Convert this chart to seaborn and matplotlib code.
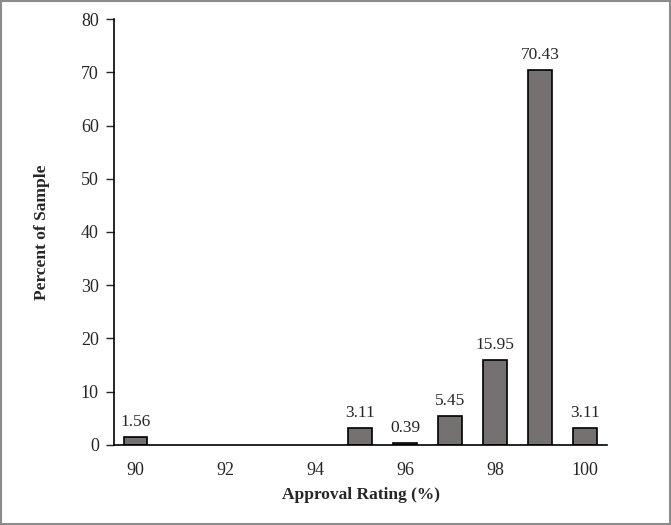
import matplotlib
matplotlib.use("Agg")
import matplotlib.pyplot as plt
import seaborn as sns
import pandas as pd
from matplotlib.patches import Rectangle

# approval rating categories and percent of sample
rating = [90, 95, 96, 97, 98, 99, 100]
percent = [1.56, 3.11, 0.39, 5.45, 15.95, 70.43, 3.11]
x_ticks = [90, 92, 94, 96, 98, 100]
y_ticks = [0, 10, 20, 30, 40, 50, 60, 70, 80]

sns.set_style("white")
plt.rcParams['font.family'] = ['Liberation Serif', 'DejaVu Serif']

df = pd.DataFrame({"rating": rating, "percent": percent})

fig = plt.figure(figsize=(6.71, 5.25), dpi=100)
ax = fig.add_axes([0.170, 0.1524, 0.7346, 0.8114])

sns.barplot(data=df, x="rating", y="percent", native_scale=True, width=0.52,
            color="#767171", saturation=1, edgecolor="black", linewidth=1.2, ax=ax)

ax.bar_label(ax.containers[0], fmt="%.2f", padding=5, fontsize=12.5)

ax.set_xlim(89.53, 100.49)
ax.set_ylim(0, 80)
ax.set_xticks(x_ticks)
ax.set_yticks(y_ticks)
ax.tick_params(axis="x", length=0, pad=12, labelsize=13)
ax.tick_params(axis="y", length=6, width=1, direction="out", left=True, labelsize=13, pad=5)
sns.despine(ax=ax)
for s in ["left", "bottom"]:
    ax.spines[s].set_color("black")
    ax.spines[s].set_linewidth(1.2)

ax.set_xlabel("Approval Rating (%)", fontsize=12.5, fontweight="bold", labelpad=6)
ax.set_ylabel("Percent of Sample", fontsize=12.5, fontweight="bold", labelpad=22)

# gray frame around the whole chart
fig.patches.append(Rectangle((0.002, 0.002), 0.996, 0.996, transform=fig.transFigure,
                             fill=False, edgecolor="#8c8c8c", linewidth=1.5))

fig.savefig("out.png", dpi=100)
